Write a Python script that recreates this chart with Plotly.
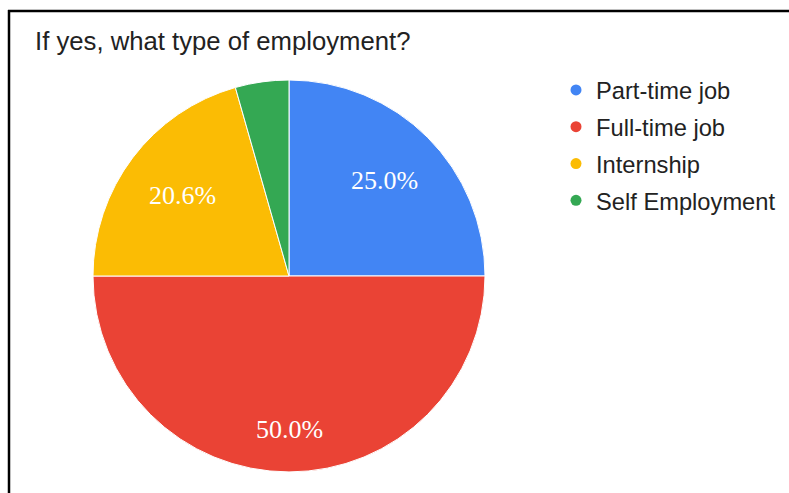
import math
import plotly.graph_objects as go

# Survey answers: type of employment
categories = ["Part-time job", "Full-time job", "Internship", "Self Employment"]
counts = [17, 34, 14, 3]
colors = ["#4285F4", "#EA4335", "#FBBC04", "#34A853"]

W, H = 789, 493
total = sum(counts)

# Pie placement in pixels (centre and radius)
cx, cy, r = 289, 276, 196

fig = go.Figure()
fig.add_trace(go.Pie(
    labels=categories,
    values=counts,
    sort=False,
    direction="clockwise",
    rotation=0,
    marker=dict(colors=colors, line=dict(color="white", width=1)),
    textinfo="none",
    showlegend=False,
    hoverinfo="label+percent",
    domain=dict(x=[(cx - r) / W, (cx + r) / W], y=[1 - (cy + r) / H, 1 - (cy - r) / H]),
))

# Percentage labels: each sits on its slice bisector, pushed out until the
# text box comes within a fixed gap of the rim. Slices under 5% get none.
label_font = dict(family="Liberation Serif, Times New Roman, serif", size=26, color="white")
half_w, half_h, rim_gap = 34, 9, 30
start = 0.0
for c in counts:
    share = c / total
    mid = (start + share / 2) * 2 * math.pi  # clockwise from 12 o'clock
    start += share
    if share < 0.05:
        continue
    ux, uy = math.sin(mid), -math.cos(mid)  # screen direction (y down)
    lo, hi = 0.0, float(r)
    for _ in range(40):
        d = (lo + hi) / 2
        px, py = d * ux, d * uy
        far = max(math.hypot(px + sx * half_w, py + sy * half_h)
                  for sx in (-1, 1) for sy in (-1, 1))
        if far > r - rim_gap:
            hi = d
        else:
            lo = d
    lx, ly = cx + lo * ux, cy + lo * uy
    fig.add_annotation(
        x=lx / W, y=1 - ly / H, xref="paper", yref="paper",
        text=f"{share * 100:.1f}%", showarrow=False,
        xanchor="center", yanchor="middle", font=label_font,
    )

# Legend entries with round markers
for i, (name, col) in enumerate(zip(categories, colors)):
    fig.add_trace(go.Scatter(
        x=[None], y=[None], mode="markers", name=name,
        marker=dict(symbol="circle", size=11, color=col),
        legendgroup=f"g{i}", showlegend=True,
    ))

# Frame lines along the top and left edges
fig.add_shape(type="line", xref="paper", yref="paper",
              x0=8 / W, x1=1, y0=1 - 11 / H, y1=1 - 11 / H,
              line=dict(color="black", width=2.5))
fig.add_shape(type="line", xref="paper", yref="paper",
              x0=9 / W, x1=9 / W, y0=1 - 10 / H, y1=0,
              line=dict(color="black", width=2.5))

fig.update_layout(
    width=W, height=H,
    margin=dict(l=0, r=0, t=0, b=0),
    paper_bgcolor="white", plot_bgcolor="white",
    xaxis=dict(visible=False), yaxis=dict(visible=False),
    title=dict(text="If yes, what type of employment?",
               x=35 / W, xanchor="left", xref="container",
               y=1 - 41 / H, yanchor="middle", yref="container",
               font=dict(family="Liberation Sans, Arial, sans-serif", size=25.7, color="#222222")),
    legend=dict(x=556 / W, xanchor="left", y=1 - 68 / H, yanchor="top",
                font=dict(family="Liberation Sans, Arial, sans-serif", size=23.7, color="#222222"),
                tracegroupgap=3, bgcolor="rgba(0,0,0,0)"),
)

fig.write_html("out.html")
